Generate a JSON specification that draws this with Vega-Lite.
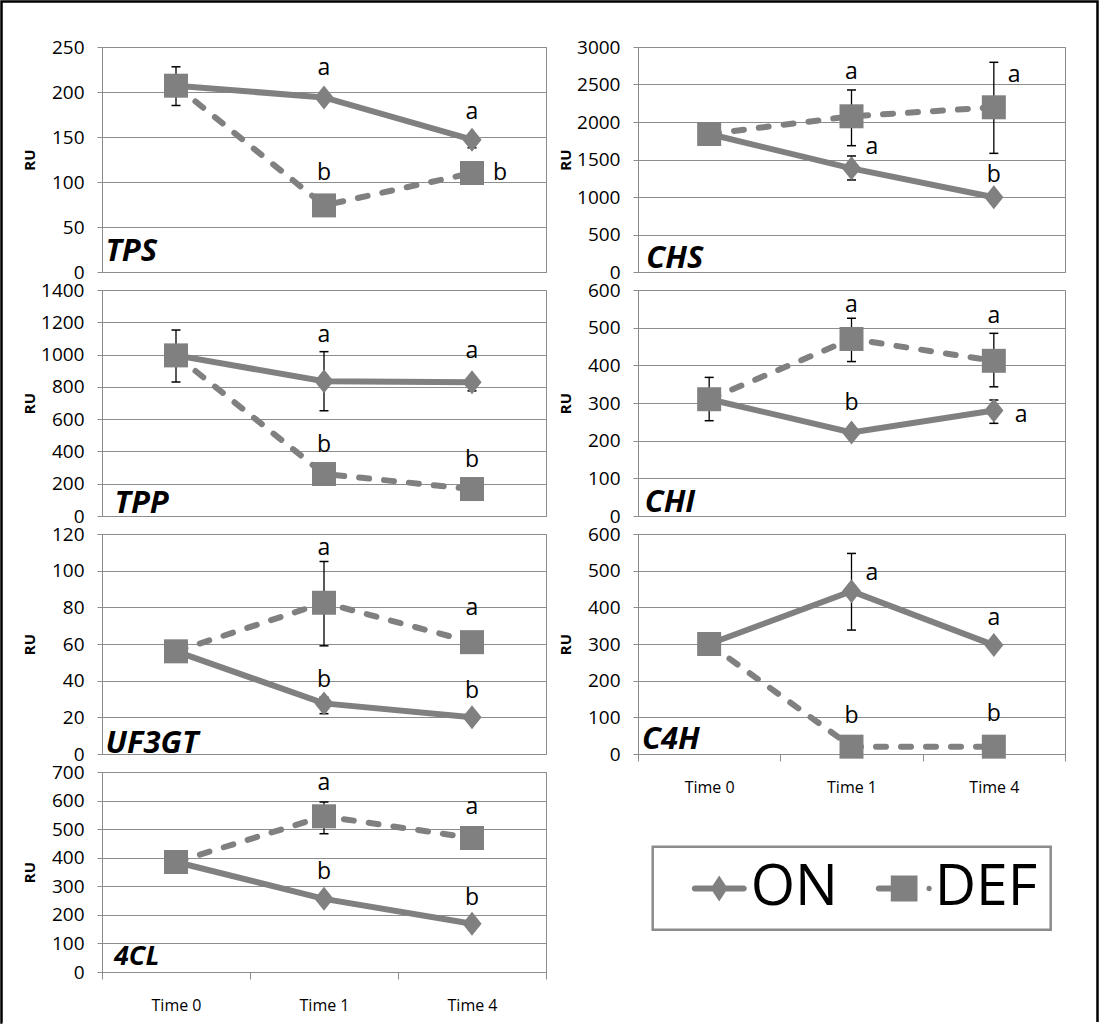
{
"$schema": "https://vega.github.io/schema/vega-lite/v6.json",
"background": "white",
"padding": 0,
"autosize": {"type": "pad"},
"datasets": {
"pts": [
{"gene":"TPS","time":"Time 0","series":"ON","value":207},
{"gene":"TPS","time":"Time 0","series":"DEF","value":207,"lo":185,"hi":228},
{"gene":"TPS","time":"Time 1","series":"ON","value":194},
{"gene":"TPS","time":"Time 1","series":"DEF","value":74},
{"gene":"TPS","time":"Time 4","series":"ON","value":147,"lo":138,"hi":152},
{"gene":"TPS","time":"Time 4","series":"DEF","value":110},
{"gene":"CHS","time":"Time 0","series":"ON","value":1840},
{"gene":"CHS","time":"Time 0","series":"DEF","value":1840},
{"gene":"CHS","time":"Time 1","series":"ON","value":1382,"lo":1227,"hi":1547},
{"gene":"CHS","time":"Time 1","series":"DEF","value":2076,"lo":1684,"hi":2427},
{"gene":"CHS","time":"Time 4","series":"ON","value":996},
{"gene":"CHS","time":"Time 4","series":"DEF","value":2196,"lo":1582,"hi":2796},
{"gene":"TPP","time":"Time 0","series":"ON","value":995},
{"gene":"TPP","time":"Time 0","series":"DEF","value":995,"lo":830,"hi":1152},
{"gene":"TPP","time":"Time 1","series":"ON","value":835,"lo":652,"hi":1018},
{"gene":"TPP","time":"Time 1","series":"DEF","value":260},
{"gene":"TPP","time":"Time 4","series":"ON","value":828,"lo":775,"hi":850},
{"gene":"TPP","time":"Time 4","series":"DEF","value":167},
{"gene":"CHI","time":"Time 0","series":"ON","value":310},
{"gene":"CHI","time":"Time 0","series":"DEF","value":310,"lo":253,"hi":368},
{"gene":"CHI","time":"Time 1","series":"ON","value":222},
{"gene":"CHI","time":"Time 1","series":"DEF","value":470,"lo":410,"hi":525},
{"gene":"CHI","time":"Time 4","series":"ON","value":280,"lo":246,"hi":308},
{"gene":"CHI","time":"Time 4","series":"DEF","value":412,"lo":343,"hi":485},
{"gene":"UF3GT","time":"Time 0","series":"ON","value":56},
{"gene":"UF3GT","time":"Time 0","series":"DEF","value":56},
{"gene":"UF3GT","time":"Time 1","series":"ON","value":27.6,"lo":22,"hi":31},
{"gene":"UF3GT","time":"Time 1","series":"DEF","value":82.5,"lo":59,"hi":105},
{"gene":"UF3GT","time":"Time 4","series":"ON","value":20},
{"gene":"UF3GT","time":"Time 4","series":"DEF","value":61},
{"gene":"C4H","time":"Time 0","series":"ON","value":300},
{"gene":"C4H","time":"Time 0","series":"DEF","value":300},
{"gene":"C4H","time":"Time 1","series":"ON","value":444,"lo":338,"hi":547},
{"gene":"C4H","time":"Time 1","series":"DEF","value":20},
{"gene":"C4H","time":"Time 4","series":"ON","value":297},
{"gene":"C4H","time":"Time 4","series":"DEF","value":20},
{"gene":"4CL","time":"Time 0","series":"ON","value":385},
{"gene":"4CL","time":"Time 0","series":"DEF","value":385},
{"gene":"4CL","time":"Time 1","series":"ON","value":256},
{"gene":"4CL","time":"Time 1","series":"DEF","value":545,"lo":484,"hi":595},
{"gene":"4CL","time":"Time 4","series":"ON","value":169},
{"gene":"4CL","time":"Time 4","series":"DEF","value":469}
],
"letters": [
{"gene":"TPS","time":"Time 1","letter":"a","at":219,"side":"c"},
{"gene":"TPS","time":"Time 1","letter":"b","at":102,"side":"c"},
{"gene":"TPS","time":"Time 4","letter":"a","at":170,"side":"c"},
{"gene":"TPS","time":"Time 4","letter":"b","at":102,"side":"r"},
{"gene":"CHS","time":"Time 1","letter":"a","at":2579,"side":"c"},
{"gene":"CHS","time":"Time 1","letter":"a","at":1579,"side":"r"},
{"gene":"CHS","time":"Time 4","letter":"a","at":2533,"side":"r"},
{"gene":"CHS","time":"Time 4","letter":"b","at":1200,"side":"c"},
{"gene":"TPP","time":"Time 1","letter":"a","at":1080,"side":"c"},
{"gene":"TPP","time":"Time 4","letter":"a","at":977,"side":"c"},
{"gene":"TPP","time":"Time 1","letter":"b","at":398,"side":"c"},
{"gene":"TPP","time":"Time 4","letter":"b","at":305,"side":"c"},
{"gene":"CHI","time":"Time 1","letter":"a","at":542,"side":"c"},
{"gene":"CHI","time":"Time 4","letter":"a","at":512,"side":"c"},
{"gene":"CHI","time":"Time 1","letter":"b","at":281,"side":"c"},
{"gene":"CHI","time":"Time 4","letter":"a","at":250,"side":"r"},
{"gene":"UF3GT","time":"Time 1","letter":"a","at":108.7,"side":"c"},
{"gene":"UF3GT","time":"Time 4","letter":"a","at":75.9,"side":"c"},
{"gene":"UF3GT","time":"Time 1","letter":"b","at":36.8,"side":"c"},
{"gene":"UF3GT","time":"Time 4","letter":"b","at":30.4,"side":"c"},
{"gene":"C4H","time":"Time 1","letter":"a","at":475.6,"side":"r"},
{"gene":"C4H","time":"Time 4","letter":"a","at":353,"side":"c"},
{"gene":"C4H","time":"Time 1","letter":"b","at":84.5,"side":"c"},
{"gene":"C4H","time":"Time 4","letter":"b","at":89,"side":"c"},
{"gene":"4CL","time":"Time 1","letter":"a","at":635.6,"side":"c"},
{"gene":"4CL","time":"Time 4","letter":"a","at":554,"side":"c"},
{"gene":"4CL","time":"Time 1","letter":"b","at":326.6,"side":"c"},
{"gene":"4CL","time":"Time 4","letter":"b","at":233,"side":"c"}
]
},
"concat": [
{
"width": 444, "height": 225,
"data": {"name": "pts"},
"transform": [{"filter": "datum.gene === 'TPS'"}],
"encoding": {"x": {"field": "time", "type": "nominal", "title": null, "scale": {"type": "band", "domain": ["Time 0", "Time 1", "Time 4"], "paddingInner": 0, "paddingOuter": 0}, "axis": null}},
"layer": [
{"transform": [{"filter": "isValid(datum.lo)"}], "mark": {"type": "rule", "color": "black", "strokeWidth": 1.3}, "encoding": {"y": {"field": "lo", "type": "quantitative", "title": "RU", "scale": {"domain": [0, 250], "nice": false}, "axis": {"values": [0,50,100,150,200,250], "format": "d"}}, "y2": {"field": "hi"}}},
{"transform": [{"filter": "isValid(datum.lo)"}], "mark": {"type": "tick", "color": "black", "size": 9, "thickness": 1.5, "opacity": 1}, "encoding": {"y": {"field": "lo", "type": "quantitative", "title": "RU", "scale": {"domain": [0, 250], "nice": false}, "axis": {"values": [0,50,100,150,200,250], "format": "d"}}}},
{"transform": [{"filter": "isValid(datum.lo)"}], "mark": {"type": "tick", "color": "black", "size": 9, "thickness": 1.5, "opacity": 1}, "encoding": {"y": {"field": "hi", "type": "quantitative", "title": "RU", "scale": {"domain": [0, 250], "nice": false}, "axis": {"values": [0,50,100,150,200,250], "format": "d"}}}},
{"transform": [{"filter": "datum.series === 'DEF'"}], "mark": {"type": "line", "color": "#808080", "strokeWidth": 6, "strokeCap": "round", "strokeDash": [10, 15]}, "encoding": {"y": {"field": "value", "type": "quantitative", "title": "RU", "scale": {"domain": [0, 250], "nice": false}, "axis": {"values": [0,50,100,150,200,250], "format": "d"}}}},
{"transform": [{"filter": "datum.series === 'ON'"}], "mark": {"type": "line", "color": "#808080", "strokeWidth": 6, "strokeCap": "round"}, "encoding": {"y": {"field": "value", "type": "quantitative", "title": "RU", "scale": {"domain": [0, 250], "nice": false}, "axis": {"values": [0,50,100,150,200,250], "format": "d"}}}},
{"transform": [{"filter": "datum.series === 'ON'"}], "mark": {"type": "point", "filled": true, "opacity": 1, "color": "#808080", "strokeWidth": 0, "shape": "M0,-1L0.8,0L0,1L-0.8,0Z", "size": 576}, "encoding": {"y": {"field": "value", "type": "quantitative", "title": "RU", "scale": {"domain": [0, 250], "nice": false}, "axis": {"values": [0,50,100,150,200,250], "format": "d"}}}},
{"transform": [{"filter": "datum.series === 'DEF'"}], "mark": {"type": "point", "filled": true, "opacity": 1, "color": "#808080", "strokeWidth": 0, "shape": "square", "size": 576}, "encoding": {"y": {"field": "value", "type": "quantitative", "title": "RU", "scale": {"domain": [0, 250], "nice": false}, "axis": {"values": [0,50,100,150,200,250], "format": "d"}}}},
{"data": {"name": "letters"}, "transform": [{"filter": "datum.gene === 'TPS' && datum.side === 'c'"}], "mark": {"type": "text", "font": "Open Sans", "fontSize": 23, "color": "black", "align": "center", "baseline": "alphabetic"}, "encoding": {"y": {"field": "at", "type": "quantitative", "title": "RU", "scale": {"domain": [0, 250], "nice": false}, "axis": {"values": [0,50,100,150,200,250], "format": "d"}}, "text": {"field": "letter"}}},
{"data": {"name": "letters"}, "transform": [{"filter": "datum.gene === 'TPS' && datum.side === 'r'"}], "mark": {"type": "text", "font": "Open Sans", "fontSize": 23, "color": "black", "align": "left", "baseline": "alphabetic", "dx": 21}, "encoding": {"y": {"field": "at", "type": "quantitative", "title": "RU", "scale": {"domain": [0, 250], "nice": false}, "axis": {"values": [0,50,100,150,200,250], "format": "d"}}, "text": {"field": "letter"}}},
{"transform": [{"filter": "datum.time === 'Time 0' && datum.series === 'ON'"}], "mark": {"type": "text", "font": "Open Sans", "fontSize": 31, "fontWeight": "bold", "fontStyle": "italic", "color": "black", "align": "left", "baseline": "alphabetic", "dx": -70.6, "dy": -11}, "encoding": {"y": {"datum": 0, "type": "quantitative", "title": "RU", "scale": {"domain": [0, 250], "nice": false}, "axis": {"values": [0,50,100,150,200,250], "format": "d"}}, "text": {"field": "gene"}}}
]
},
{
"width": 427, "height": 225,
"data": {"name": "pts"},
"transform": [{"filter": "datum.gene === 'CHS'"}],
"encoding": {"x": {"field": "time", "type": "nominal", "title": null, "scale": {"type": "band", "domain": ["Time 0", "Time 1", "Time 4"], "paddingInner": 0, "paddingOuter": 0}, "axis": null}},
"layer": [
{"transform": [{"filter": "isValid(datum.lo)"}], "mark": {"type": "rule", "color": "black", "strokeWidth": 1.3}, "encoding": {"y": {"field": "lo", "type": "quantitative", "title": "RU", "scale": {"domain": [0, 3000], "nice": false}, "axis": {"values": [0,500,1000,1500,2000,2500,3000], "format": "d"}}, "y2": {"field": "hi"}}},
{"transform": [{"filter": "isValid(datum.lo)"}], "mark": {"type": "tick", "color": "black", "size": 9, "thickness": 1.5, "opacity": 1}, "encoding": {"y": {"field": "lo", "type": "quantitative", "title": "RU", "scale": {"domain": [0, 3000], "nice": false}, "axis": {"values": [0,500,1000,1500,2000,2500,3000], "format": "d"}}}},
{"transform": [{"filter": "isValid(datum.lo)"}], "mark": {"type": "tick", "color": "black", "size": 9, "thickness": 1.5, "opacity": 1}, "encoding": {"y": {"field": "hi", "type": "quantitative", "title": "RU", "scale": {"domain": [0, 3000], "nice": false}, "axis": {"values": [0,500,1000,1500,2000,2500,3000], "format": "d"}}}},
{"transform": [{"filter": "datum.series === 'DEF'"}], "mark": {"type": "line", "color": "#808080", "strokeWidth": 6, "strokeCap": "round", "strokeDash": [10, 15]}, "encoding": {"y": {"field": "value", "type": "quantitative", "title": "RU", "scale": {"domain": [0, 3000], "nice": false}, "axis": {"values": [0,500,1000,1500,2000,2500,3000], "format": "d"}}}},
{"transform": [{"filter": "datum.series === 'ON'"}], "mark": {"type": "line", "color": "#808080", "strokeWidth": 6, "strokeCap": "round"}, "encoding": {"y": {"field": "value", "type": "quantitative", "title": "RU", "scale": {"domain": [0, 3000], "nice": false}, "axis": {"values": [0,500,1000,1500,2000,2500,3000], "format": "d"}}}},
{"transform": [{"filter": "datum.series === 'ON'"}], "mark": {"type": "point", "filled": true, "opacity": 1, "color": "#808080", "strokeWidth": 0, "shape": "M0,-1L0.8,0L0,1L-0.8,0Z", "size": 576}, "encoding": {"y": {"field": "value", "type": "quantitative", "title": "RU", "scale": {"domain": [0, 3000], "nice": false}, "axis": {"values": [0,500,1000,1500,2000,2500,3000], "format": "d"}}}},
{"transform": [{"filter": "datum.series === 'DEF'"}], "mark": {"type": "point", "filled": true, "opacity": 1, "color": "#808080", "strokeWidth": 0, "shape": "square", "size": 576}, "encoding": {"y": {"field": "value", "type": "quantitative", "title": "RU", "scale": {"domain": [0, 3000], "nice": false}, "axis": {"values": [0,500,1000,1500,2000,2500,3000], "format": "d"}}}},
{"data": {"name": "letters"}, "transform": [{"filter": "datum.gene === 'CHS' && datum.side === 'c'"}], "mark": {"type": "text", "font": "Open Sans", "fontSize": 23, "color": "black", "align": "center", "baseline": "alphabetic"}, "encoding": {"y": {"field": "at", "type": "quantitative", "title": "RU", "scale": {"domain": [0, 3000], "nice": false}, "axis": {"values": [0,500,1000,1500,2000,2500,3000], "format": "d"}}, "text": {"field": "letter"}}},
{"data": {"name": "letters"}, "transform": [{"filter": "datum.gene === 'CHS' && datum.side === 'r'"}], "mark": {"type": "text", "font": "Open Sans", "fontSize": 23, "color": "black", "align": "left", "baseline": "alphabetic", "dx": 14}, "encoding": {"y": {"field": "at", "type": "quantitative", "title": "RU", "scale": {"domain": [0, 3000], "nice": false}, "axis": {"values": [0,500,1000,1500,2000,2500,3000], "format": "d"}}, "text": {"field": "letter"}}},
{"transform": [{"filter": "datum.time === 'Time 0' && datum.series === 'ON'"}], "mark": {"type": "text", "font": "Open Sans", "fontSize": 31, "fontWeight": "bold", "fontStyle": "italic", "color": "black", "align": "left", "baseline": "alphabetic", "dx": -62.9, "dy": -3.7}, "encoding": {"y": {"datum": 0, "type": "quantitative", "title": "RU", "scale": {"domain": [0, 3000], "nice": false}, "axis": {"values": [0,500,1000,1500,2000,2500,3000], "format": "d"}}, "text": {"field": "gene"}}}
]
},
{
"width": 444, "height": 226,
"data": {"name": "pts"},
"transform": [{"filter": "datum.gene === 'TPP'"}],
"encoding": {"x": {"field": "time", "type": "nominal", "title": null, "scale": {"type": "band", "domain": ["Time 0", "Time 1", "Time 4"], "paddingInner": 0, "paddingOuter": 0}, "axis": null}},
"layer": [
{"transform": [{"filter": "isValid(datum.lo)"}], "mark": {"type": "rule", "color": "black", "strokeWidth": 1.3}, "encoding": {"y": {"field": "lo", "type": "quantitative", "title": "RU", "scale": {"domain": [0, 1400], "nice": false}, "axis": {"values": [0,200,400,600,800,1000,1200,1400], "format": "d"}}, "y2": {"field": "hi"}}},
{"transform": [{"filter": "isValid(datum.lo)"}], "mark": {"type": "tick", "color": "black", "size": 9, "thickness": 1.5, "opacity": 1}, "encoding": {"y": {"field": "lo", "type": "quantitative", "title": "RU", "scale": {"domain": [0, 1400], "nice": false}, "axis": {"values": [0,200,400,600,800,1000,1200,1400], "format": "d"}}}},
{"transform": [{"filter": "isValid(datum.lo)"}], "mark": {"type": "tick", "color": "black", "size": 9, "thickness": 1.5, "opacity": 1}, "encoding": {"y": {"field": "hi", "type": "quantitative", "title": "RU", "scale": {"domain": [0, 1400], "nice": false}, "axis": {"values": [0,200,400,600,800,1000,1200,1400], "format": "d"}}}},
{"transform": [{"filter": "datum.series === 'DEF'"}], "mark": {"type": "line", "color": "#808080", "strokeWidth": 6, "strokeCap": "round", "strokeDash": [10, 15]}, "encoding": {"y": {"field": "value", "type": "quantitative", "title": "RU", "scale": {"domain": [0, 1400], "nice": false}, "axis": {"values": [0,200,400,600,800,1000,1200,1400], "format": "d"}}}},
{"transform": [{"filter": "datum.series === 'ON'"}], "mark": {"type": "line", "color": "#808080", "strokeWidth": 6, "strokeCap": "round"}, "encoding": {"y": {"field": "value", "type": "quantitative", "title": "RU", "scale": {"domain": [0, 1400], "nice": false}, "axis": {"values": [0,200,400,600,800,1000,1200,1400], "format": "d"}}}},
{"transform": [{"filter": "datum.series === 'ON'"}], "mark": {"type": "point", "filled": true, "opacity": 1, "color": "#808080", "strokeWidth": 0, "shape": "M0,-1L0.8,0L0,1L-0.8,0Z", "size": 576}, "encoding": {"y": {"field": "value", "type": "quantitative", "title": "RU", "scale": {"domain": [0, 1400], "nice": false}, "axis": {"values": [0,200,400,600,800,1000,1200,1400], "format": "d"}}}},
{"transform": [{"filter": "datum.series === 'DEF'"}], "mark": {"type": "point", "filled": true, "opacity": 1, "color": "#808080", "strokeWidth": 0, "shape": "square", "size": 576}, "encoding": {"y": {"field": "value", "type": "quantitative", "title": "RU", "scale": {"domain": [0, 1400], "nice": false}, "axis": {"values": [0,200,400,600,800,1000,1200,1400], "format": "d"}}}},
{"data": {"name": "letters"}, "transform": [{"filter": "datum.gene === 'TPP' && datum.side === 'c'"}], "mark": {"type": "text", "font": "Open Sans", "fontSize": 23, "color": "black", "align": "center", "baseline": "alphabetic"}, "encoding": {"y": {"field": "at", "type": "quantitative", "title": "RU", "scale": {"domain": [0, 1400], "nice": false}, "axis": {"values": [0,200,400,600,800,1000,1200,1400], "format": "d"}}, "text": {"field": "letter"}}},
{"transform": [{"filter": "datum.time === 'Time 0' && datum.series === 'ON'"}], "mark": {"type": "text", "font": "Open Sans", "fontSize": 31, "fontWeight": "bold", "fontStyle": "italic", "color": "black", "align": "left", "baseline": "alphabetic", "dx": -61.5, "dy": -3}, "encoding": {"y": {"datum": 0, "type": "quantitative", "title": "RU", "scale": {"domain": [0, 1400], "nice": false}, "axis": {"values": [0,200,400,600,800,1000,1200,1400], "format": "d"}}, "text": {"field": "gene"}}}
]
},
{
"width": 427, "height": 226,
"data": {"name": "pts"},
"transform": [{"filter": "datum.gene === 'CHI'"}],
"encoding": {"x": {"field": "time", "type": "nominal", "title": null, "scale": {"type": "band", "domain": ["Time 0", "Time 1", "Time 4"], "paddingInner": 0, "paddingOuter": 0}, "axis": null}},
"layer": [
{"transform": [{"filter": "isValid(datum.lo)"}], "mark": {"type": "rule", "color": "black", "strokeWidth": 1.3}, "encoding": {"y": {"field": "lo", "type": "quantitative", "title": "RU", "scale": {"domain": [0, 600], "nice": false}, "axis": {"values": [0,100,200,300,400,500,600], "format": "d"}}, "y2": {"field": "hi"}}},
{"transform": [{"filter": "isValid(datum.lo)"}], "mark": {"type": "tick", "color": "black", "size": 9, "thickness": 1.5, "opacity": 1}, "encoding": {"y": {"field": "lo", "type": "quantitative", "title": "RU", "scale": {"domain": [0, 600], "nice": false}, "axis": {"values": [0,100,200,300,400,500,600], "format": "d"}}}},
{"transform": [{"filter": "isValid(datum.lo)"}], "mark": {"type": "tick", "color": "black", "size": 9, "thickness": 1.5, "opacity": 1}, "encoding": {"y": {"field": "hi", "type": "quantitative", "title": "RU", "scale": {"domain": [0, 600], "nice": false}, "axis": {"values": [0,100,200,300,400,500,600], "format": "d"}}}},
{"transform": [{"filter": "datum.series === 'DEF'"}], "mark": {"type": "line", "color": "#808080", "strokeWidth": 6, "strokeCap": "round", "strokeDash": [10, 15]}, "encoding": {"y": {"field": "value", "type": "quantitative", "title": "RU", "scale": {"domain": [0, 600], "nice": false}, "axis": {"values": [0,100,200,300,400,500,600], "format": "d"}}}},
{"transform": [{"filter": "datum.series === 'ON'"}], "mark": {"type": "line", "color": "#808080", "strokeWidth": 6, "strokeCap": "round"}, "encoding": {"y": {"field": "value", "type": "quantitative", "title": "RU", "scale": {"domain": [0, 600], "nice": false}, "axis": {"values": [0,100,200,300,400,500,600], "format": "d"}}}},
{"transform": [{"filter": "datum.series === 'ON'"}], "mark": {"type": "point", "filled": true, "opacity": 1, "color": "#808080", "strokeWidth": 0, "shape": "M0,-1L0.8,0L0,1L-0.8,0Z", "size": 576}, "encoding": {"y": {"field": "value", "type": "quantitative", "title": "RU", "scale": {"domain": [0, 600], "nice": false}, "axis": {"values": [0,100,200,300,400,500,600], "format": "d"}}}},
{"transform": [{"filter": "datum.series === 'DEF'"}], "mark": {"type": "point", "filled": true, "opacity": 1, "color": "#808080", "strokeWidth": 0, "shape": "square", "size": 576}, "encoding": {"y": {"field": "value", "type": "quantitative", "title": "RU", "scale": {"domain": [0, 600], "nice": false}, "axis": {"values": [0,100,200,300,400,500,600], "format": "d"}}}},
{"data": {"name": "letters"}, "transform": [{"filter": "datum.gene === 'CHI' && datum.side === 'c'"}], "mark": {"type": "text", "font": "Open Sans", "fontSize": 23, "color": "black", "align": "center", "baseline": "alphabetic"}, "encoding": {"y": {"field": "at", "type": "quantitative", "title": "RU", "scale": {"domain": [0, 600], "nice": false}, "axis": {"values": [0,100,200,300,400,500,600], "format": "d"}}, "text": {"field": "letter"}}},
{"data": {"name": "letters"}, "transform": [{"filter": "datum.gene === 'CHI' && datum.side === 'r'"}], "mark": {"type": "text", "font": "Open Sans", "fontSize": 23, "color": "black", "align": "left", "baseline": "alphabetic", "dx": 21}, "encoding": {"y": {"field": "at", "type": "quantitative", "title": "RU", "scale": {"domain": [0, 600], "nice": false}, "axis": {"values": [0,100,200,300,400,500,600], "format": "d"}}, "text": {"field": "letter"}}},
{"transform": [{"filter": "datum.time === 'Time 0' && datum.series === 'ON'"}], "mark": {"type": "text", "font": "Open Sans", "fontSize": 31, "fontWeight": "bold", "fontStyle": "italic", "color": "black", "align": "left", "baseline": "alphabetic", "dx": -64.5, "dy": -4.3}, "encoding": {"y": {"datum": 0, "type": "quantitative", "title": "RU", "scale": {"domain": [0, 600], "nice": false}, "axis": {"values": [0,100,200,300,400,500,600], "format": "d"}}, "text": {"field": "gene"}}}
]
},
{
"width": 444, "height": 220,
"data": {"name": "pts"},
"transform": [{"filter": "datum.gene === 'UF3GT'"}],
"encoding": {"x": {"field": "time", "type": "nominal", "title": null, "scale": {"type": "band", "domain": ["Time 0", "Time 1", "Time 4"], "paddingInner": 0, "paddingOuter": 0}, "axis": null}},
"layer": [
{"transform": [{"filter": "isValid(datum.lo)"}], "mark": {"type": "rule", "color": "black", "strokeWidth": 1.3}, "encoding": {"y": {"field": "lo", "type": "quantitative", "title": "RU", "scale": {"domain": [0, 120], "nice": false}, "axis": {"values": [0,20,40,60,80,100,120], "format": "d"}}, "y2": {"field": "hi"}}},
{"transform": [{"filter": "isValid(datum.lo)"}], "mark": {"type": "tick", "color": "black", "size": 9, "thickness": 1.5, "opacity": 1}, "encoding": {"y": {"field": "lo", "type": "quantitative", "title": "RU", "scale": {"domain": [0, 120], "nice": false}, "axis": {"values": [0,20,40,60,80,100,120], "format": "d"}}}},
{"transform": [{"filter": "isValid(datum.lo)"}], "mark": {"type": "tick", "color": "black", "size": 9, "thickness": 1.5, "opacity": 1}, "encoding": {"y": {"field": "hi", "type": "quantitative", "title": "RU", "scale": {"domain": [0, 120], "nice": false}, "axis": {"values": [0,20,40,60,80,100,120], "format": "d"}}}},
{"transform": [{"filter": "datum.series === 'DEF'"}], "mark": {"type": "line", "color": "#808080", "strokeWidth": 6, "strokeCap": "round", "strokeDash": [10, 15]}, "encoding": {"y": {"field": "value", "type": "quantitative", "title": "RU", "scale": {"domain": [0, 120], "nice": false}, "axis": {"values": [0,20,40,60,80,100,120], "format": "d"}}}},
{"transform": [{"filter": "datum.series === 'ON'"}], "mark": {"type": "line", "color": "#808080", "strokeWidth": 6, "strokeCap": "round"}, "encoding": {"y": {"field": "value", "type": "quantitative", "title": "RU", "scale": {"domain": [0, 120], "nice": false}, "axis": {"values": [0,20,40,60,80,100,120], "format": "d"}}}},
{"transform": [{"filter": "datum.series === 'ON'"}], "mark": {"type": "point", "filled": true, "opacity": 1, "color": "#808080", "strokeWidth": 0, "shape": "M0,-1L0.8,0L0,1L-0.8,0Z", "size": 576}, "encoding": {"y": {"field": "value", "type": "quantitative", "title": "RU", "scale": {"domain": [0, 120], "nice": false}, "axis": {"values": [0,20,40,60,80,100,120], "format": "d"}}}},
{"transform": [{"filter": "datum.series === 'DEF'"}], "mark": {"type": "point", "filled": true, "opacity": 1, "color": "#808080", "strokeWidth": 0, "shape": "square", "size": 576}, "encoding": {"y": {"field": "value", "type": "quantitative", "title": "RU", "scale": {"domain": [0, 120], "nice": false}, "axis": {"values": [0,20,40,60,80,100,120], "format": "d"}}}},
{"data": {"name": "letters"}, "transform": [{"filter": "datum.gene === 'UF3GT' && datum.side === 'c'"}], "mark": {"type": "text", "font": "Open Sans", "fontSize": 23, "color": "black", "align": "center", "baseline": "alphabetic"}, "encoding": {"y": {"field": "at", "type": "quantitative", "title": "RU", "scale": {"domain": [0, 120], "nice": false}, "axis": {"values": [0,20,40,60,80,100,120], "format": "d"}}, "text": {"field": "letter"}}},
{"transform": [{"filter": "datum.time === 'Time 0' && datum.series === 'ON'"}], "mark": {"type": "text", "font": "Open Sans", "fontSize": 31, "fontWeight": "bold", "fontStyle": "italic", "color": "black", "align": "left", "baseline": "alphabetic", "dx": -70.4, "dy": -1.5}, "encoding": {"y": {"datum": 0, "type": "quantitative", "title": "RU", "scale": {"domain": [0, 120], "nice": false}, "axis": {"values": [0,20,40,60,80,100,120], "format": "d"}}, "text": {"field": "gene"}}}
]
},
{
"width": 427, "height": 220,
"data": {"name": "pts"},
"transform": [{"filter": "datum.gene === 'C4H'"}],
"encoding": {"x": {"field": "time", "type": "nominal", "title": null, "scale": {"type": "band", "domain": ["Time 0", "Time 1", "Time 4"], "paddingInner": 0, "paddingOuter": 0}, "axis": {}}},
"layer": [
{"transform": [{"filter": "isValid(datum.lo)"}], "mark": {"type": "rule", "color": "black", "strokeWidth": 1.3}, "encoding": {"y": {"field": "lo", "type": "quantitative", "title": "RU", "scale": {"domain": [0, 600], "nice": false}, "axis": {"values": [0,100,200,300,400,500,600], "format": "d"}}, "y2": {"field": "hi"}}},
{"transform": [{"filter": "isValid(datum.lo)"}], "mark": {"type": "tick", "color": "black", "size": 9, "thickness": 1.5, "opacity": 1}, "encoding": {"y": {"field": "lo", "type": "quantitative", "title": "RU", "scale": {"domain": [0, 600], "nice": false}, "axis": {"values": [0,100,200,300,400,500,600], "format": "d"}}}},
{"transform": [{"filter": "isValid(datum.lo)"}], "mark": {"type": "tick", "color": "black", "size": 9, "thickness": 1.5, "opacity": 1}, "encoding": {"y": {"field": "hi", "type": "quantitative", "title": "RU", "scale": {"domain": [0, 600], "nice": false}, "axis": {"values": [0,100,200,300,400,500,600], "format": "d"}}}},
{"transform": [{"filter": "datum.series === 'DEF'"}], "mark": {"type": "line", "color": "#808080", "strokeWidth": 6, "strokeCap": "round", "strokeDash": [10, 15]}, "encoding": {"y": {"field": "value", "type": "quantitative", "title": "RU", "scale": {"domain": [0, 600], "nice": false}, "axis": {"values": [0,100,200,300,400,500,600], "format": "d"}}}},
{"transform": [{"filter": "datum.series === 'ON'"}], "mark": {"type": "line", "color": "#808080", "strokeWidth": 6, "strokeCap": "round"}, "encoding": {"y": {"field": "value", "type": "quantitative", "title": "RU", "scale": {"domain": [0, 600], "nice": false}, "axis": {"values": [0,100,200,300,400,500,600], "format": "d"}}}},
{"transform": [{"filter": "datum.series === 'ON'"}], "mark": {"type": "point", "filled": true, "opacity": 1, "color": "#808080", "strokeWidth": 0, "shape": "M0,-1L0.8,0L0,1L-0.8,0Z", "size": 576}, "encoding": {"y": {"field": "value", "type": "quantitative", "title": "RU", "scale": {"domain": [0, 600], "nice": false}, "axis": {"values": [0,100,200,300,400,500,600], "format": "d"}}}},
{"transform": [{"filter": "datum.series === 'DEF'"}], "mark": {"type": "point", "filled": true, "opacity": 1, "color": "#808080", "strokeWidth": 0, "shape": "square", "size": 576}, "encoding": {"y": {"field": "value", "type": "quantitative", "title": "RU", "scale": {"domain": [0, 600], "nice": false}, "axis": {"values": [0,100,200,300,400,500,600], "format": "d"}}}},
{"data": {"name": "letters"}, "transform": [{"filter": "datum.gene === 'C4H' && datum.side === 'c'"}], "mark": {"type": "text", "font": "Open Sans", "fontSize": 23, "color": "black", "align": "center", "baseline": "alphabetic"}, "encoding": {"y": {"field": "at", "type": "quantitative", "title": "RU", "scale": {"domain": [0, 600], "nice": false}, "axis": {"values": [0,100,200,300,400,500,600], "format": "d"}}, "text": {"field": "letter"}}},
{"data": {"name": "letters"}, "transform": [{"filter": "datum.gene === 'C4H' && datum.side === 'r'"}], "mark": {"type": "text", "font": "Open Sans", "fontSize": 23, "color": "black", "align": "left", "baseline": "alphabetic", "dx": 14}, "encoding": {"y": {"field": "at", "type": "quantitative", "title": "RU", "scale": {"domain": [0, 600], "nice": false}, "axis": {"values": [0,100,200,300,400,500,600], "format": "d"}}, "text": {"field": "letter"}}},
{"transform": [{"filter": "datum.time === 'Time 0' && datum.series === 'ON'"}], "mark": {"type": "text", "font": "Open Sans", "fontSize": 31, "fontWeight": "bold", "fontStyle": "italic", "color": "black", "align": "left", "baseline": "alphabetic", "dx": -67.2, "dy": -4.7}, "encoding": {"y": {"datum": 0, "type": "quantitative", "title": "RU", "scale": {"domain": [0, 600], "nice": false}, "axis": {"values": [0,100,200,300,400,500,600], "format": "d"}}, "text": {"field": "gene"}}}
]
},
{
"width": 444, "height": 200,
"data": {"name": "pts"},
"transform": [{"filter": "datum.gene === '4CL'"}],
"encoding": {"x": {"field": "time", "type": "nominal", "title": null, "scale": {"type": "band", "domain": ["Time 0", "Time 1", "Time 4"], "paddingInner": 0, "paddingOuter": 0}, "axis": {}}},
"layer": [
{"transform": [{"filter": "isValid(datum.lo)"}], "mark": {"type": "rule", "color": "black", "strokeWidth": 1.3}, "encoding": {"y": {"field": "lo", "type": "quantitative", "title": "RU", "scale": {"domain": [0, 700], "nice": false}, "axis": {"values": [0,100,200,300,400,500,600,700], "format": "d"}}, "y2": {"field": "hi"}}},
{"transform": [{"filter": "isValid(datum.lo)"}], "mark": {"type": "tick", "color": "black", "size": 9, "thickness": 1.5, "opacity": 1}, "encoding": {"y": {"field": "lo", "type": "quantitative", "title": "RU", "scale": {"domain": [0, 700], "nice": false}, "axis": {"values": [0,100,200,300,400,500,600,700], "format": "d"}}}},
{"transform": [{"filter": "isValid(datum.lo)"}], "mark": {"type": "tick", "color": "black", "size": 9, "thickness": 1.5, "opacity": 1}, "encoding": {"y": {"field": "hi", "type": "quantitative", "title": "RU", "scale": {"domain": [0, 700], "nice": false}, "axis": {"values": [0,100,200,300,400,500,600,700], "format": "d"}}}},
{"transform": [{"filter": "datum.series === 'DEF'"}], "mark": {"type": "line", "color": "#808080", "strokeWidth": 6, "strokeCap": "round", "strokeDash": [10, 15]}, "encoding": {"y": {"field": "value", "type": "quantitative", "title": "RU", "scale": {"domain": [0, 700], "nice": false}, "axis": {"values": [0,100,200,300,400,500,600,700], "format": "d"}}}},
{"transform": [{"filter": "datum.series === 'ON'"}], "mark": {"type": "line", "color": "#808080", "strokeWidth": 6, "strokeCap": "round"}, "encoding": {"y": {"field": "value", "type": "quantitative", "title": "RU", "scale": {"domain": [0, 700], "nice": false}, "axis": {"values": [0,100,200,300,400,500,600,700], "format": "d"}}}},
{"transform": [{"filter": "datum.series === 'ON'"}], "mark": {"type": "point", "filled": true, "opacity": 1, "color": "#808080", "strokeWidth": 0, "shape": "M0,-1L0.8,0L0,1L-0.8,0Z", "size": 576}, "encoding": {"y": {"field": "value", "type": "quantitative", "title": "RU", "scale": {"domain": [0, 700], "nice": false}, "axis": {"values": [0,100,200,300,400,500,600,700], "format": "d"}}}},
{"transform": [{"filter": "datum.series === 'DEF'"}], "mark": {"type": "point", "filled": true, "opacity": 1, "color": "#808080", "strokeWidth": 0, "shape": "square", "size": 576}, "encoding": {"y": {"field": "value", "type": "quantitative", "title": "RU", "scale": {"domain": [0, 700], "nice": false}, "axis": {"values": [0,100,200,300,400,500,600,700], "format": "d"}}}},
{"data": {"name": "letters"}, "transform": [{"filter": "datum.gene === '4CL' && datum.side === 'c'"}], "mark": {"type": "text", "font": "Open Sans", "fontSize": 23, "color": "black", "align": "center", "baseline": "alphabetic"}, "encoding": {"y": {"field": "at", "type": "quantitative", "title": "RU", "scale": {"domain": [0, 700], "nice": false}, "axis": {"values": [0,100,200,300,400,500,600,700], "format": "d"}}, "text": {"field": "letter"}}},
{"transform": [{"filter": "datum.time === 'Time 0' && datum.series === 'ON'"}], "mark": {"type": "text", "font": "Open Sans", "fontSize": 27, "fontWeight": "bold", "fontStyle": "italic", "color": "black", "align": "left", "baseline": "alphabetic", "dx": -62, "dy": -6.6}, "encoding": {"y": {"datum": 0, "type": "quantitative", "title": "RU", "scale": {"domain": [0, 700], "nice": false}, "axis": {"values": [0,100,200,300,400,500,600,700], "format": "d"}}, "text": {"field": "gene"}}}
]
},
{
"width": 427, "height": 200,
"view": {"stroke": null},
"layer": [
{"data": {"values": [{"series": "ON"}, {"series": "DEF"}]},
 "mark": {"type": "point", "filled": true, "color": "#808080", "opacity": 0, "size": 2500},
 "encoding": {"shape": {"field": "series", "type": "nominal",
   "scale": {"domain": ["ON", "DEF"], "range": ["M0.024,-0.12L1.984,-0.12A0.12,0.12 0 0 1 1.984,0.12L0.024,0.12A0.12,0.12 0 0 1 0.024,-0.12ZM1,-0.52L1.34,0L1,0.52L0.66,0Z", "M0.024,-0.12L0.6,-0.12L0.6,0.12L0.024,0.12A0.12,0.12 0 0 1 0.024,-0.12ZM0.504,-0.52L1.572,-0.52L1.572,0.52L0.504,0.52ZM1.928,0A0.108,0.108 0 1 1 2.144,0A0.108,0.108 0 1 1 1.928,0Z"]},
   "legend": {"orient": "none", "legendX": 550.7, "legendY": 799.7, "direction": "horizontal", "title": null,
     "labelFont": "Open Sans", "labelFontSize": 57, "labelColor": "black", "labelOffset": 28, "labelLimit": 400,
     "columnPadding": 11, "padding": 13, "strokeColor": "#8c8c8c",
     "symbolSize": 2500, "symbolFillColor": "#808080", "symbolStrokeColor": "transparent", "symbolStrokeWidth": 0, "symbolOpacity": 1}}}},
{"data": {"values": [{"v": 0}, {"v": 1}]},
 "mark": {"type": "point", "opacity": 0},
 "encoding": {"color": {"field": "v", "type": "quantitative",
   "legend": {"orient": "none", "legendX": -100.5, "legendY": -45.5, "direction": "vertical", "title": null,
     "gradientLength": 1021, "gradientThickness": 1094, "gradientOpacity": 0, "gradientStrokeWidth": 0,
     "labelOpacity": 0, "labelFontSize": 1, "labelOffset": 0, "padding": 0,
     "strokeColor": "black"}}}}
]
}
],
"columns": 2,
"spacing": {"row": 18, "column": 92},
"bounds": "flush",
"config": {
  "font": "Open Sans",
  "view": {"stroke": "#8c8c8c", "strokeWidth": 1},
  "legend": {"strokeWidth": 2.5, "strokeDash": [2116.5, 1095.5, 3000]},
  "axisY": {"grid": true, "gridColor": "#8c8c8c", "gridOpacity": 1, "gridWidth": 1, "domainColor": "#8c8c8c", "tickColor": "#8c8c8c", "tickSize": 5, "labelFont": "Open Sans", "labelFontSize": 19, "labelColor": "black", "labelPadding": 13, "labelOverlap": false, "titleFont": "Open Sans", "titleFontSize": 15, "titleFontWeight": "bold", "titleColor": "black", "titleX": -68, "titleBaseline": "alphabetic", "titleAngle": -90},
  "axisX": {"domainColor": "#8c8c8c", "tickColor": "#8c8c8c", "tickSize": 7, "tickBand": "extent", "labelAngle": 0, "labelFont": "Open Sans", "labelFontSize": 16, "labelColor": "black", "labelPadding": 18, "grid": false}
}
}
